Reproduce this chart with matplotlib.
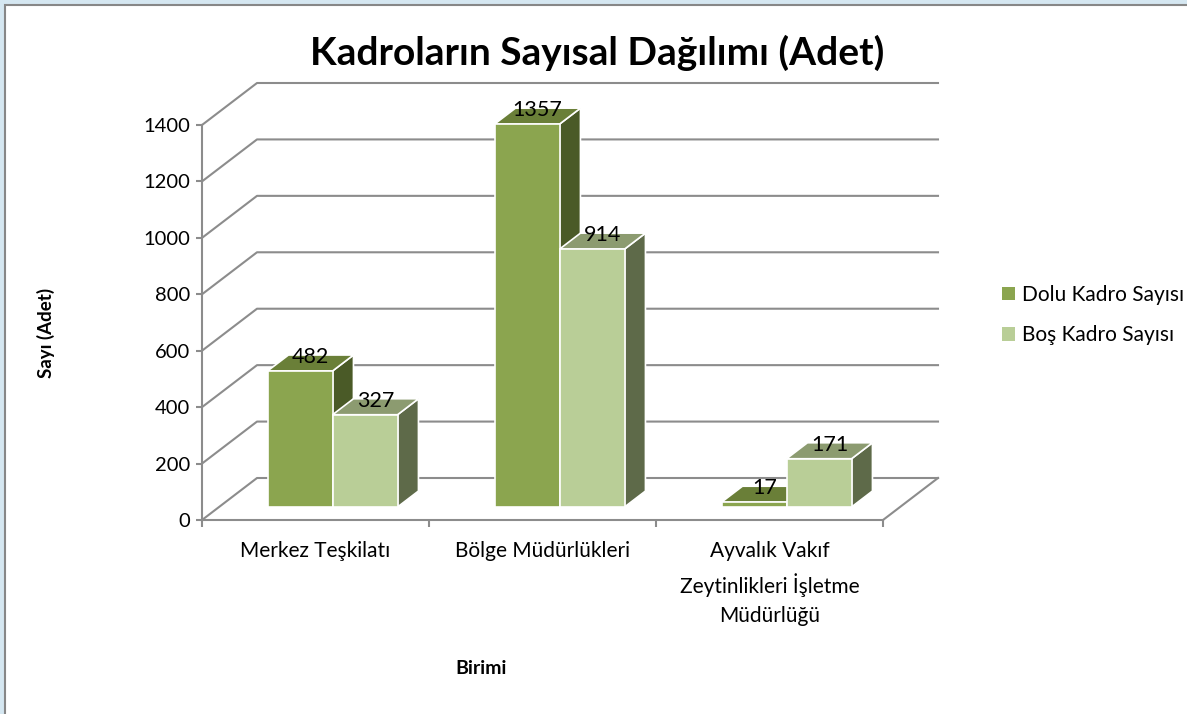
import matplotlib
matplotlib.use('Agg')
import matplotlib.pyplot as plt
from matplotlib.patches import Polygon, Rectangle, Patch

# --- ДАННЫЕ ---
categories = ['Merkez Teşkilatı', 'Bölge Müdürlükleri',
              'Ayvalık Vakıf\nZeytinlikleri İşletme\nMüdürlüğü']
dolu = [482, 1357, 17]
bos = [327, 914, 171]
series_names = ['Dolu Kadro Sayısı', 'Boş Kadro Sayısı']
y_ticks = [0, 200, 400, 600, 800, 1000, 1200, 1400]

# --- НАСТРОЙКИ ---
W, H = 1187, 714
FONT = 'Lato'
GRID = '#8C8C8C'
# цвета: лицевая грань, верх, бок
COLORS = [('#8BA54F', '#6A7F38', '#4A5A27'),
          ('#B9CE97', '#8C9B70', '#5E6A49')]
DX = 55 / 227          # глубина по x (в единицах категорий)
DY = 42 / (395 / 1400)  # глубина по y (в единицах значений)
BAR_W = 65 / 227
Z0, Z1 = 0.31, 0.69

plt.rcParams['font.family'] = [FONT, 'DejaVu Sans']

fig = plt.figure(figsize=(W / 100, H / 100), dpi=100)
fig.patch.set_facecolor('#D5E7F1')
fig.patches.append(Rectangle((5 / W, -0.05), 1.1, (H - 5) / H + 0.05,
                             transform=fig.transFigure, facecolor='white',
                             edgecolor='#878787', lw=1.5, zorder=-5))

ax = fig.add_axes([202 / W, (H - 520) / H, (883 - 202) / W, (520 - 125) / H])
ax.set_facecolor('none')
ax.set_xlim(-0.5, 2.5)
ax.set_ylim(0, 1400)
for s in ['top', 'right']:
    ax.spines[s].set_visible(False)
for s in ['left', 'bottom']:
    ax.spines[s].set_color(GRID)
    ax.spines[s].set_linewidth(1.5)

# стены и пол
for v in y_ticks:
    ax.plot([-0.5, -0.5 + DX, 2.5 + DX], [v, v + DY, v + DY],
            color=GRID, lw=1.5, clip_on=False, zorder=1)
ax.plot([2.5, 2.5 + DX], [0, DY], color=GRID, lw=1.5, clip_on=False, zorder=1)


def draw_bar(x0, h, cols):
    f, t, s = cols
    xa, xb = x0 + Z0 * DX, x0 + BAR_W + Z0 * DX
    ya = Z0 * DY
    xc, yc = x0 + BAR_W + Z1 * DX, Z1 * DY
    side = [(xb, ya), (xc, yc), (xc, h + yc), (xb, h + ya)]
    top = [(xa, h + ya), (xb, h + ya), (xc, h + yc), (x0 + Z1 * DX, h + yc)]
    front = [(xa, ya), (xb, ya), (xb, h + ya), (xa, h + ya)]
    for pts, c in [(side, s), (top, t), (front, f)]:
        ax.add_patch(Polygon(pts, closed=True, facecolor=c, edgecolor='white',
                             lw=1.2, clip_on=False, zorder=3))
    ax.text(x0 + BAR_W / 2 + (Z0 + Z1) / 2 * DX, h + (Z0 + Z1) / 2 * DY + 22,
            str(h), ha='center', va='center', fontsize=15.5, zorder=5,
            clip_on=False)


for i in range(len(categories)):
    draw_bar(i - BAR_W, dolu[i], COLORS[0])
    draw_bar(i, bos[i], COLORS[1])

# оси
ax.set_yticks(y_ticks)
ax.tick_params(axis='y', length=4.5, width=1.5, color=GRID, pad=4,
               labelsize=14.5)
ax.set_xticks([-0.5, 0.5, 1.5, 2.5])
ax.set_xticklabels([])
ax.tick_params(axis='x', which='major', length=5, width=1.5, color=GRID)
ax.set_xticks(range(len(categories)), minor=True)
ax.set_xticklabels(categories, minor=True, fontsize=15, linespacing=1.6,
                   va='top')
ax.tick_params(axis='x', which='minor', length=0, pad=15)

fig.text(597 / W, 1 - 53 / H, 'Kadroların Sayısal Dağılımı (Adet)',
         ha='center', va='center', fontsize=28, fontweight='bold')
fig.text(46 / W, 1 - 333 / H, 'Sayı (Adet)', rotation=90,
         ha='center', va='center', fontsize=13.5, fontweight='bold')
fig.text(481 / W, 1 - 669 / H, 'Birimi',
         ha='center', va='center', fontsize=14, fontweight='bold')

handles = [Patch(facecolor=COLORS[0][0]), Patch(facecolor=COLORS[1][0])]
fig.legend(handles, series_names, loc='center left',
           bbox_to_anchor=(992 / W, 1 - 315 / H), frameon=False,
           fontsize=15, handlelength=0.6, handleheight=0.6,
           handletextpad=0.35, labelspacing=1.0, borderpad=0)

fig.savefig('out.png', dpi=100, facecolor=fig.get_facecolor())
plt.close()
